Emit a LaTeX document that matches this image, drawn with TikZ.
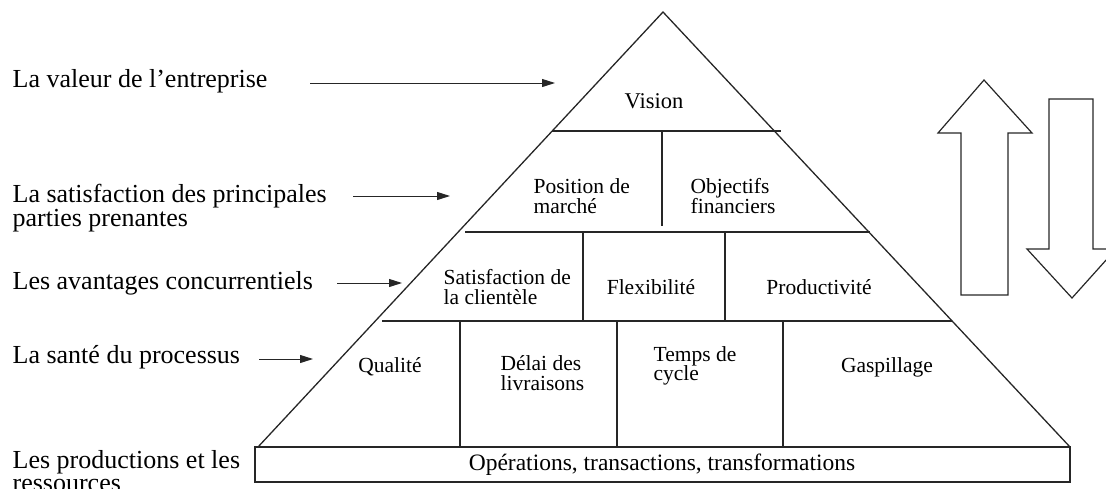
\documentclass[tikz,border=0pt]{standalone}
\usepackage{fontspec}
\setmainfont{Liberation Serif}
\usetikzlibrary{arrows.meta}

\begin{document}
\begin{tikzpicture}[
            x = 1pt, y = -1pt, % pixel grid, y going down
            > = {Triangle[length=13pt, width=8pt]}, % arrow head style
            line width = 1.3pt, % line style
            draw = black!85
        ]

        \tikzstyle{side}=[
            font = \fontsize{26}{23.5}\selectfont,
            anchor = west,
            align = left,
            inner sep = 0pt
        ]
        \tikzstyle{cell}=[
            font = \fontsize{21.5}{19.5}\selectfont,
            align = left,
            inner sep = 0pt
        ]
        \tikzstyle{pointer}=[
            ->,
            line width = 1pt
        ]

        \useasboundingbox (0,0) rectangle (1106,488);

        % pyramid
        \coordinate (A) at (663,12);
        \coordinate (BL) at (258,447);
        \coordinate (BR) at (1070,447);
        \draw (BL) -- (A) -- (BR);

        % floors
        \draw (552,131) -- (781,131);
        \draw (465,232) -- (870,232);
        \draw (382,321) -- (952,321);
        \draw (255,447) rectangle (1070,482);

        % walls
        \draw (662,131) -- (662,226);
        \draw (583,232) -- (583,321);
        \draw (725,232) -- (725,321);
        \draw (460,321) -- (460,447);
        \draw (617,321) -- (617,447);
        \draw (783,321) -- (783,447);

        % cells
        \node[cell, font = \fontsize{22.5}{20}\selectfont] (vision) at (654,101) {Vision};
        \node[cell, anchor = west] (pos) at (533,196) {Position de\\marché};
        \node[cell, anchor = west] (obj) at (690,196) {Objectifs\\financiers};
        \node[cell, anchor = west] (sat) at (443,287) {Satisfaction de\\la clientèle};
        \node[cell] (flex) at (651,287) {Flexibilité};
        \node[cell] (prod) at (819,287) {Productivité};
        \node[cell] (qual) at (390,367) {Qualité};
        \node[cell, anchor = west] (delai) at (500,373) {Délai des\\livraisons};
        \node[cell, anchor = west] (temps) at (653,366) {Temps de\\cycle};
        \node[cell] (gasp) at (887,367) {Gaspillage};
        \node[cell, font = \fontsize{23.5}{22}\selectfont] (ops) at (662,465)
            {Opérations, transactions, transformations};

        % levels
        \node[side] (valeur) at (12,81) {La valeur de l’entreprise};
        \node[side] (parties) at (12,208) {La satisfaction des principales\\parties prenantes};
        \node[side] (avant) at (12,283) {Les avantages concurrentiels};
        \node[side] (sante) at (12,357) {La santé du processus};
        \node[side] (ressources) at (12,471) {Les productions et les\\ressources};

        \coordinate (v0) at (310,83);  \coordinate (v1) at (555,83);
        \coordinate (p0) at (353,196); \coordinate (p1) at (450,196);
        \coordinate (a0) at (337,283); \coordinate (a1) at (402,283);
        \coordinate (s0) at (259,359); \coordinate (s1) at (313,359);

        \draw[pointer] (v0) -- (v1);
        \draw[pointer] (p0) -- (p1);
        \draw[pointer] (a0) -- (a1);
        \draw[pointer] (s0) -- (s1);

        % up and down
        \draw[line width = 1.2pt] (984,80) -- (1032,133) -- (1008,133) -- (1008,295)
            -- (961,295) -- (961,133) -- (938,133) -- cycle;
        \draw[line width = 1.2pt] (1049,99) -- (1093,99) -- (1093,249) -- (1116,249)
            -- (1072,298) -- (1027,249) -- (1049,249) -- cycle;

\end{tikzpicture}
\end{document}
